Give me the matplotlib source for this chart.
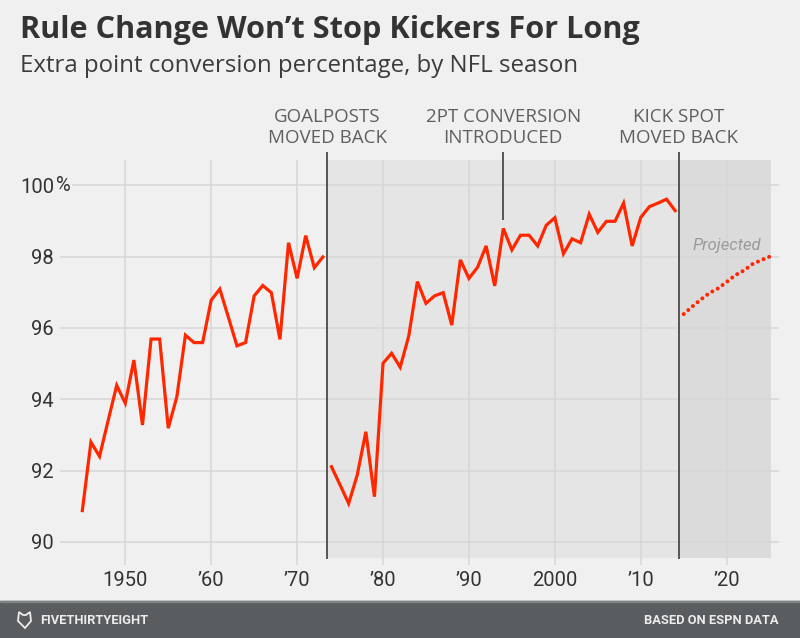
import matplotlib
matplotlib.use("Agg")
import matplotlib.pyplot as plt
import matplotlib.transforms as mtransforms
from matplotlib.patches import Rectangle, Polygon

# ---------------- data ----------------
years_before = list(range(1945, 1974))
pct_before = [90.88, 92.8, 92.4, 93.4, 94.39, 93.89, 95.1, 93.28, 95.69, 95.69,
              93.19, 94.07, 95.8, 95.59, 95.59, 96.78, 97.09, 96.3, 95.5, 95.59,
              96.9, 97.19, 96.99, 95.68, 98.39, 97.39, 98.59, 97.69, 97.99]

years_after = list(range(1974, 2015))
pct_after = [92.11, 91.6, 91.08, 91.88, 93.09, 91.27, 95.01, 95.29, 94.9, 95.78,
             97.3, 96.69, 96.9, 96.99, 96.08, 97.91, 97.39, 97.7, 98.3, 97.18,
             98.79, 98.19, 98.6, 98.6, 98.3, 98.88, 99.09, 98.08, 98.5, 98.39,
             99.19, 98.68, 98.99, 98.99, 99.5, 98.3, 99.1, 99.4, 99.5, 99.61, 99.29]

years_proj = list(range(2015, 2026))
pct_proj = [96.39, 96.6, 96.8, 96.98, 97.11, 97.29, 97.48, 97.61, 97.79, 97.9, 98.0]

x_ticks = [1950, 1960, 1970, 1980, 1990, 2000, 2010, 2020]
x_labels = ["1950", "\u201960", "\u201970", "\u201980", "\u201990", "2000", "\u201910", "\u201920"]
y_ticks = [90, 92, 94, 96, 98, 100]
y_labels = ["90", "92", "94", "96", "98", "100"]

events_x = [1973.5, 1994.0, 2014.45]
events_text = [("GOALPOSTS", "MOVED BACK"), ("2PT CONVERSION", "INTRODUCED"), ("KICK SPOT", "MOVED BACK")]

# ---------------- style ----------------
BG = "#f0f0f0"
SHADE1 = "#e5e5e5"
SHADE2 = "#dbdbdb"
GRID = "#d7d7d7"
RED = "#ff2700"
TXT = "#5f5f5f"
FONT = ["Roboto", "DejaVu Sans"]
HEAD = ["Open Sans", "Roboto", "DejaVu Sans"]
plt.rcParams["font.family"] = FONT

W, H = 800, 638
fig = plt.figure(figsize=(W / 100, H / 100), dpi=100, facecolor=BG)

def fy(py):
    return (H - py) / H

# axes pixel box: x 60..779, y 160..565
ax = fig.add_axes([60 / W, fy(565), 719 / W, (565 - 160) / H])
ax.set_facecolor(BG)
x0, x1 = 1942.4, 2026.09
y0, y1 = 89.355, 100.709
ax.set_xlim(x0, x1)
ax.set_ylim(y0, y1)
for s in ax.spines.values():
    s.set_visible(False)

# shaded eras
shade_bottom = 89.55
ax.fill_between([events_x[0], events_x[2]], shade_bottom, y1, color=SHADE1, lw=0, zorder=0)
ax.fill_between([events_x[2], 2025.16], shade_bottom, y1, color=SHADE2, lw=0, zorder=0)

# grid
for xt in x_ticks:
    ax.plot([xt, xt], [y0, y1], color=GRID, lw=1.1, zorder=1)
for yt in y_ticks:
    xs = 1943.8 if yt == 100 else x0
    ax.plot([xs, x1], [yt, yt], color=GRID, lw=1.1, zorder=1, solid_capstyle="butt")

# ticks
ax.set_xticks(x_ticks)
ax.set_xticklabels(x_labels, fontsize=14.5, color="#333333")
ax.set_yticks(y_ticks)
ax.set_yticklabels(y_labels, fontsize=14.5, color="#333333")
ax.tick_params(axis="both", length=0)
ax.tick_params(axis="x", pad=4.5)
ax.tick_params(axis="y", pad=4.3)
ax.text(-4.3 / 719, 100, "%", transform=mtransforms.blended_transform_factory(ax.transAxes, ax.transData),
        fontsize=14.5, color="#333333", ha="left", va="center")

# data lines
ax.plot(years_before, pct_before, color=RED, lw=2.3, zorder=4, solid_joinstyle="miter")
ax.plot(years_after, pct_after, color=RED, lw=2.3, zorder=4, solid_joinstyle="miter")
ax.plot(years_proj, pct_proj, color=RED, lw=2.9, zorder=4,
        linestyle=(0, (0.01, 1.5)), dash_capstyle="round")

ax.text(2020.0, 98.19, "Projected", fontsize=12, style="italic", color="#9a9a9a",
        ha="center", va="baseline", zorder=5)

# event lines
top_line = 100.0 + (185.3 - 153) / 35.67
ax.plot([events_x[0], events_x[0]], [shade_bottom, top_line], color="#555555", lw=1.4, zorder=3, clip_on=False)
ax.plot([events_x[2], events_x[2]], [shade_bottom, top_line], color="#555555", lw=1.4, zorder=3, clip_on=False)
ax.plot([events_x[1], events_x[1]], [100.0 + (185.3 - 219) / 35.67, top_line], color="#555555", lw=1.4,
        zorder=3, clip_on=False)

btr = mtransforms.blended_transform_factory(ax.transData, fig.transFigure)
for ex, (l1, l2) in zip(events_x, events_text):
    ax.text(ex, fy(122.5), l1, transform=btr, fontsize=13.5, color=TXT, ha="center", va="baseline",
            family=HEAD)
    ax.text(ex, fy(142.7), l2, transform=btr, fontsize=13.5, color=TXT, ha="center", va="baseline",
            family=HEAD)

# titles
fig.text(20 / W, fy(38.3), "Rule Change Won\u2019t Stop Kickers For Long", fontsize=22.1,
         fontweight="bold", color="#333333", ha="left", va="baseline", family=HEAD)
fig.text(20 / W, fy(71.7), "Extra point conversion percentage, by NFL season", fontsize=17.3,
         color="#3c3c3c", ha="left", va="baseline", family=HEAD)

# footer
fig.patches.append(Rectangle((0, 0), 1, fy(601), transform=fig.transFigure, color="#5a5d5f", zorder=0))
fig.patches.append(Rectangle((0, fy(602)), 1, 1 / H, transform=fig.transFigure, color="#808385", zorder=1))
fig.text(40 / W, fy(620), "FIVETHIRTYEIGHT", fontsize=9.3, fontweight="bold", color="#ececec",
         ha="left", va="center", family=["Roboto", "DejaVu Sans"])
fig.text(779 / W, fy(620), "BASED ON ESPN DATA", fontsize=9.3, fontweight="bold", color="#ececec",
         ha="right", va="center", family=["Roboto", "DejaVu Sans"])
# small fox-head logo
pts = [(19, 612), (23, 615), (26, 615), (30, 612), (31, 621), (25, 628), (18, 621)]
fig.patches.append(Polygon([(x / W, fy(y)) for x, y in pts], closed=True, transform=fig.transFigure,
                           fill=False, edgecolor="#ececec", lw=1.3))

fig.savefig("out.png", dpi=100, facecolor=BG)
